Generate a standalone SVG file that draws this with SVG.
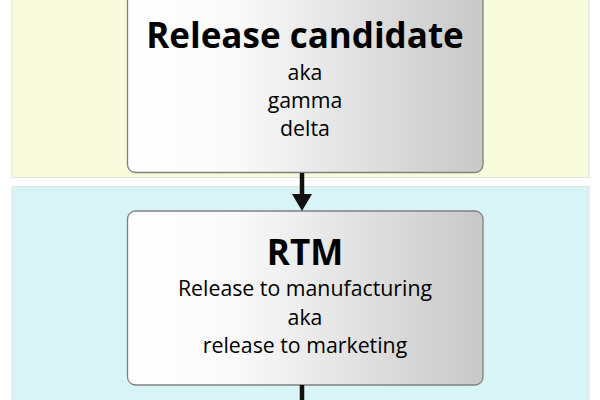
<svg xmlns="http://www.w3.org/2000/svg" width="600" height="400" viewBox="0 0 600 400">
<defs>
<linearGradient id="g" x1="0" y1="0" x2="1" y2="0">
<stop offset="0" stop-color="#ffffff"/>
<stop offset="0.3" stop-color="#fafafa"/>
<stop offset="1" stop-color="#c8c8c8"/>
</linearGradient>
<marker id="ah" markerWidth="17" markerHeight="20" refX="0" refY="10" orient="auto" markerUnits="userSpaceOnUse" viewBox="0 0 17 20">
<path d="M0,0 L17,10 L0,20 Z" fill="#111"/>
</marker>
<style>
.box{fill:url(#g);stroke:#808080;stroke-width:1.3}
.t{font-family:"Open Sans","Noto Sans","DejaVu Sans",sans-serif;text-anchor:middle;fill:#000}
.h{font-size:35px;font-weight:bold}
.s{font-size:21.3px}
.c{stroke:#111;stroke-width:4.5;fill:none}
</style>
</defs>
<rect width="600" height="400" fill="#ffffff"/>
<g id="band1"><rect x="12" y="-10" width="577" height="187.5" fill="#f8fbdc" stroke="#e2e2d8" stroke-width="1"/></g>
<g id="band2"><rect x="12" y="186.5" width="577" height="230" fill="#d9f4f7" stroke="#dde2e2" stroke-width="1"/></g>
<g id="rc">
<rect class="box" x="127.5" y="-20" width="355.5" height="192.5" rx="8"/>
<text class="t h" x="305" y="48">Release candidate</text>
<text class="t s" x="305" y="80">aka</text>
<text class="t s" x="305" y="108">gamma</text>
<text class="t s" x="305" y="136">delta</text>
</g>
<g id="rtm">
<rect class="box" x="127.5" y="211" width="355.5" height="174" rx="8"/>
<text class="t h" x="305" y="265">RTM</text>
<text class="t s" x="305" y="296">Release to manufacturing</text>
<text class="t s" x="305" y="324.5">aka</text>
<text class="t s" x="305" y="353">release to marketing</text>
</g>
<g id="connectors">
<line class="c" x1="302" y1="173" x2="302" y2="194" marker-end="url(#ah)"/>
<line class="c" x1="302" y1="385" x2="302" y2="400"/>
</g>
</svg>
